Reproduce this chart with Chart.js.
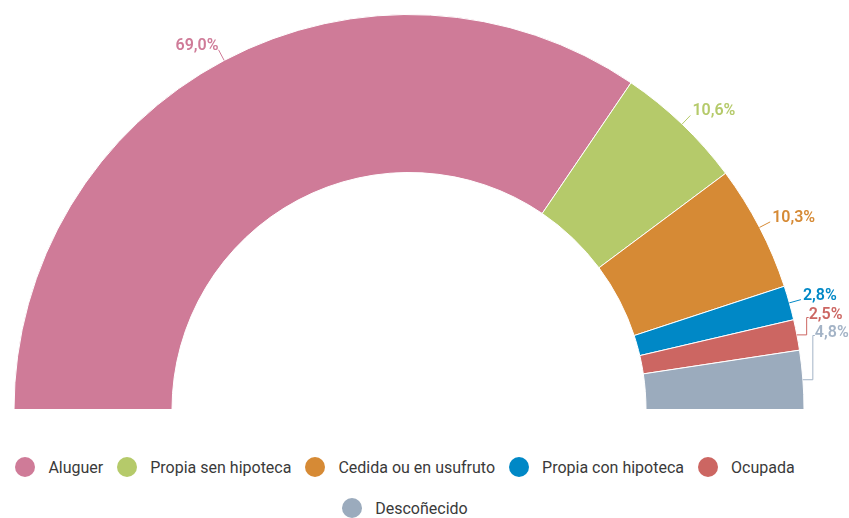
<!DOCTYPE html>
<html>
<head>
<meta charset="utf-8">
<script src="https://cdn.jsdelivr.net/npm/chart.js@4.4.1/dist/chart.umd.min.js"></script>
<style>
  html, body { margin: 0; padding: 0; background: #fff; }
  #wrap { position: relative; width: 849px; height: 518px; overflow: hidden; }
  #chart-box { position: absolute; left: 0; top: 0; width: 849px; height: 430px; }
  #legend {
    position: absolute; left: 5px; top: 457px; width: 800px;
    display: flex; flex-wrap: wrap; justify-content: center;
    column-gap: 14px; row-gap: 21px;
    font-family: Roboto, sans-serif; font-size: 16px; color: #3a3a3a;
  }
  .lg-item { display: flex; align-items: center; height: 20px; }
  .lg-dot { width: 20px; height: 20px; border-radius: 50%; margin-right: 13px; }
</style>
</head>
<body>
<div id="wrap">
  <div id="chart-box"><canvas id="chart"></canvas></div>
  <div id="legend"></div>
</div>
<script>
  // ── data ──
  const categories = ['Aluguer', 'Propia sen hipoteca', 'Cedida ou en usufruto', 'Propia con hipoteca', 'Ocupada', 'Descoñecido'];
  const shares     = [69.0, 10.6, 10.3, 2.8, 2.5, 4.8];
  const colors     = ['#cf7b98', '#b5ca6a', '#d68a35', '#0088c6', '#cc6662', '#9babbd'];
  const labelColors = ['#cf7b98', '#b5ca6a', '#d68a35', '#0088c6', '#cc6662', '#a3b3c6'];

  const fmt = v => v.toFixed(1).replace('.', ',') + '%';

  // ── outside labels with connectors ──
  const pieLabels = {
    id: 'pieLabels',
    afterDatasetsDraw(chart) {
      const ctx = chart.ctx;
      const meta = chart.getDatasetMeta(0);
      const items = meta.data.map((arc, i) => {
        const p = arc.getProps(['x', 'y', 'startAngle', 'endAngle', 'outerRadius'], true);
        const mid = (p.startAngle + p.endAngle) / 2;
        const c = Math.cos(mid), s = Math.sin(mid);
        const r0 = p.outerRadius, r1 = p.outerRadius + 12;
        const y1 = p.y + s * r1;
        return { i, cy: p.y, x0: p.x + c * r0, y0: p.y + s * r0, x1: p.x + c * r1, y1,
                 right: c >= 0, natural: y1 - 4, ly: y1 - 4 };
      });

      // push right-hand labels up so they stay above the floor and do not overlap
      const rightSide = items.filter(d => d.right);
      if (rightSide.length) {
        let limit = rightSide[0].cy - 77;
        for (let j = rightSide.length - 1; j >= 0; j--) {
          const d = rightSide[j];
          d.ly = Math.min(d.natural, limit);
          limit = d.ly - 18;
        }
      }

      ctx.save();
      ctx.font = '600 16px Roboto, sans-serif';
      ctx.textBaseline = 'middle';
      ctx.lineWidth = 1;
      items.forEach(d => {
        const col = labelColors[d.i];
        ctx.strokeStyle = col;
        ctx.fillStyle = col;
        ctx.beginPath();
        ctx.moveTo(d.x0, d.y0);
        const moved = d.natural - d.ly > 0.5;
        let tx = d.x1;
        if (moved) {
          const xe = d.x1 - 2;
          ctx.lineTo(xe, d.y0);
          ctx.lineTo(xe, d.ly + 3);
          ctx.lineTo(xe + 2, d.ly + 3);
          tx = xe;
        } else {
          ctx.lineTo(d.x1, d.y1);
        }
        ctx.stroke();
        if (d.right) {
          ctx.textAlign = 'left';
          ctx.fillText(fmt(shares[d.i]), tx + 2, d.ly);
        } else {
          ctx.textAlign = 'right';
          ctx.fillText(fmt(shares[d.i]), d.x1, d.ly);
        }
      });
      ctx.restore();
    }
  };

  new Chart(document.getElementById('chart'), {
    type: 'doughnut',
    data: {
      labels: categories,
      datasets: [{
        data: shares,
        backgroundColor: colors,
        borderColor: '#ffffff',
        borderWidth: 1,
        hoverOffset: 0
      }]
    },
    options: {
      responsive: true,
      maintainAspectRatio: false,
      animation: false,
      rotation: -90,
      circumference: 180,
      cutout: '60%',
      layout: { padding: { left: 13, right: 44, top: 14, bottom: 20 } },
      plugins: {
        legend: { display: false },
        tooltip: { enabled: false }
      }
    },
    plugins: [pieLabels]
  });

  // ── legend ──
  const legendEl = document.getElementById('legend');
  categories.forEach((name, i) => {
    const item = document.createElement('div');
    item.className = 'lg-item';
    const dot = document.createElement('span');
    dot.className = 'lg-dot';
    dot.style.background = colors[i];
    const txt = document.createElement('span');
    txt.textContent = name;
    item.appendChild(dot);
    item.appendChild(txt);
    legendEl.appendChild(item);
  });
</script>
</body>
</html>
